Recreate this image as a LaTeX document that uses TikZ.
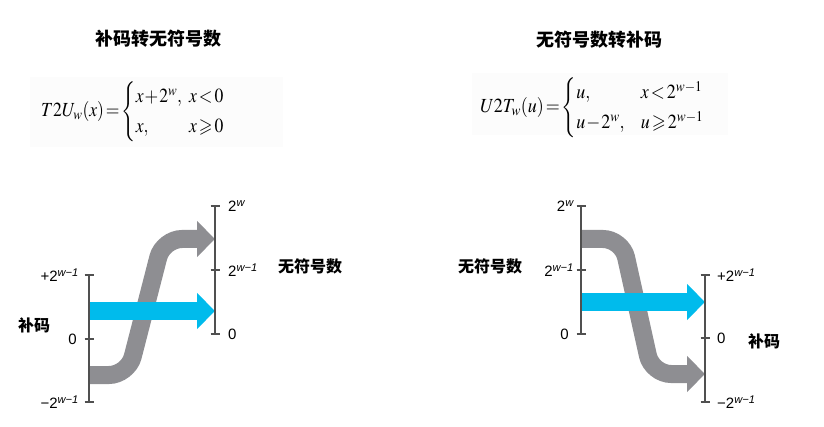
\documentclass[tikz,border=0pt]{standalone}
\usepackage{amsmath,amssymb}
\usepackage{mathptmx}
\usepackage{graphicx}
\usepackage{fontspec}
\setsansfont{Liberation Sans}
\newfontfamily\cjk{Noto Sans CJK SC}
\usetikzlibrary{arrows.meta}
\definecolor{shiftgray}{RGB}{142,142,146}
\definecolor{keepblue}{RGB}{0,187,236}
\definecolor{axisgray}{RGB}{80,80,80}
\newcommand\tightmath{\fontsize{20}{24}\selectfont\renewcommand{\arraystretch}{1.25}\thickmuskip=2mu\relax\medmuskip=1mu\relax}
\tikzstyle{axis} = [draw=axisgray, line width=1.5pt]
\tikzstyle{band} = [line width=18pt, -{Triangle[length=18pt,width=35pt]}]
\tikzstyle{tick} = [font=\sffamily\fontsize{15}{15}\selectfont, inner sep=2pt]
\tikzstyle{title} = [font=\cjk\bfseries\fontsize{18}{18}\selectfont]
\tikzstyle{side} = [font=\cjk\bfseries\fontsize{16}{16}\selectfont]
\tikzstyle{formula} = [font=\tightmath, inner sep=0pt, anchor=west]
\tikzstyle{paper} = [fill=black!1.2]

\begin{document}
\begin{tikzpicture}[x=1pt, y=-1pt]
    \useasboundingbox (0,0) rectangle (824,427);

    % titles and formulas
    \node[title](t2utitle) at (158,39) {补码转无符号数};
    \node[title](u2ttitle) at (599,40) {无符号数转补码};
    \fill[paper] (30,77) rectangle (283,147);
    \fill[paper] (472,73) rectangle (728,135);
    \node[formula](t2u) at (41,112) {\scalebox{0.88}[1]{$T2U_w(x)=\left\{\begin{array}{@{}l@{\hspace{8pt}}l@{}} x+2^w, & x<0\\ x, & x\geqslant 0\end{array}\right.$}};
    \node[formula](u2t) at (480,108) {\scalebox{0.9}[1]{$U2T_w(u)=\left\{\begin{array}{@{}l@{\hspace{18pt}}l@{}} u, & x<2^{w-1}\\ u-2^w, & u\geqslant 2^{w-1}\end{array}\right.$}};

    % left: two's complement -> unsigned
    \coordinate (ltop) at (89,275);
    \coordinate (lzero) at (89,339);
    \coordinate (lbot) at (89,402);
    \coordinate (rtop) at (215,206);
    \coordinate (rmid) at (215,270);
    \coordinate (rzero) at (215,334);
    \coordinate (lneg) at (89,375);
    \coordinate (lpos) at (89,311);
    \coordinate (rhigh) at (215,239);
    \coordinate (rlow) at (215,311);

    \draw[band, shiftgray, rounded corners=19pt] (lneg) -- ++(39,0) -- ++(35,-136) -- (rhigh);
    \draw[band, keepblue] (lpos) -- (rlow);

    \draw[axis] (ltop) -- (lbot);
    \draw[axis] (rtop) -- (rzero);
    \foreach \c in {ltop,lzero,lbot,rtop,rmid,rzero}
        \draw[axis] (\c) +(-4.5,0) -- +(4.5,0);

    \node[tick, left=8pt] (ltoplabel) at (ltop) {+2\textsuperscript{\itshape w−1}};
    \node[tick, left=10pt] (lzerolabel) at (lzero) {0};
    \node[tick, left=8pt] (lbotlabel) at (lbot) {−2\textsuperscript{\itshape w−1}};
    \node[tick, right=11pt] (rtoplabel) at (rtop) {2\textsuperscript{\itshape w}};
    \node[tick, right=11pt] (rmidlabel) at (rmid) {2\textsuperscript{\itshape w−1}};
    \node[tick, right=11pt] (rzerolabel) at (rzero) {0};
    \node[side] (lside) at (34,325) {补码};
    \node[side] (rside) at (310,266) {无符号数};

    % right: unsigned -> two's complement
    \coordinate (ultop) at (581,206);
    \coordinate (ulmid) at (581,270);
    \coordinate (ulzero) at (581,334);
    \coordinate (urtop) at (705,275);
    \coordinate (urzero) at (705,338);
    \coordinate (urbot) at (705,402);
    \coordinate (ulhigh) at (581,239);
    \coordinate (ullow) at (581,302);
    \coordinate (urpos) at (705,302);
    \coordinate (urneg) at (705,374);

    \draw[band, shiftgray, rounded corners=19pt] (ulhigh) -- ++(41,0) -- ++(30,135) -- (urneg);
    \draw[band, keepblue] (ullow) -- (urpos);

    \draw[axis] (ultop) -- (ulzero);
    \draw[axis] (urtop) -- (urbot);
    \foreach \c in {ultop,ulmid,ulzero,urtop,urzero,urbot}
        \draw[axis] (\c) +(-4.5,0) -- +(4.5,0);

    \node[tick, left=5pt] (ultoplabel) at (ultop) {2\textsuperscript{\itshape w}};
    \node[tick, left=5pt] (ulmidlabel) at (ulmid) {2\textsuperscript{\itshape w−1}};
    \node[tick, left=10pt] (ulzerolabel) at (ulzero) {0};
    \node[tick, right=10pt] (urtoplabel) at (urtop) {+2\textsuperscript{\itshape w−1}};
    \node[tick, right=10pt] (urzerolabel) at (urzero) {0};
    \node[tick, right=10pt] (urbotlabel) at (urbot) {−2\textsuperscript{\itshape w−1}};
    \node[side] (ulside) at (490,266) {无符号数};
    \node[side] (urside) at (764,341) {补码};
\end{tikzpicture}
\end{document}
